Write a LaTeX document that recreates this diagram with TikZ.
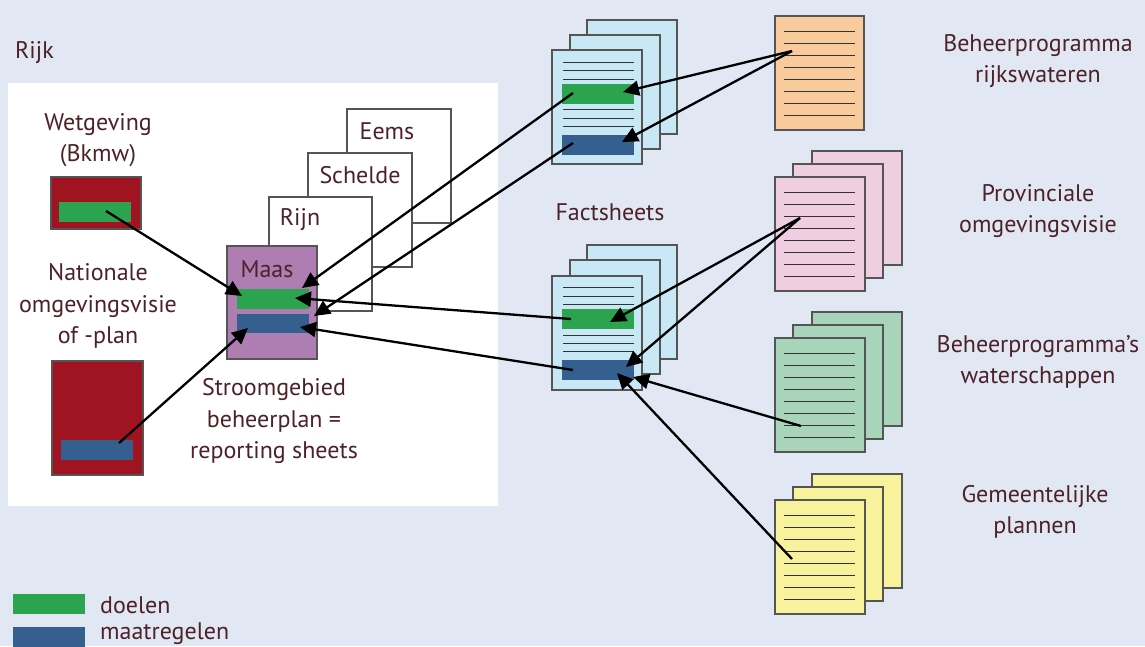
\documentclass[tikz,border=0pt]{standalone}
\usepackage{fontspec}
\setmainfont{PT Sans}
\usetikzlibrary{arrows.meta}
\definecolor{bg}{HTML}{E1E8F3}
\definecolor{txt}{HTML}{4D2128}
\definecolor{darkred}{HTML}{A01422}
\definecolor{gbar}{HTML}{2CA44F}
\definecolor{bbar}{HTML}{355F8F}
\definecolor{maas}{HTML}{AE7DB1}
\definecolor{fact}{HTML}{C8E8F6}
\definecolor{orangedoc}{HTML}{F9CB9C}
\definecolor{pinkdoc}{HTML}{F0CEE2}
\definecolor{greendoc}{HTML}{A8D5BA}
\definecolor{yellowdoc}{HTML}{F9F29C}
\definecolor{border}{HTML}{555555}
\newcommand\mystack[7]{% name, x, y, color, dx1, dy1 (back), dx2 middle
  \node[rbox={90pt}{114pt}, fill=#4, draw=border, line width=1.3pt] (#1c) at (#2+#5,#3-#6) {};
  \node[rbox={90pt}{114pt}, fill=#4, draw=border, line width=1.3pt] (#1b) at (#2+#7,#3-#6/2) {};
  \node[rbox={90pt}{114pt}, fill=#4, draw=border, line width=1.3pt] (#1) at (#2,#3) {};
}
\newcommand\mylines[2]{% x, y of front top-left : 8 text lines
  \foreach \k in {0,...,7} \draw[docline] (#1+9,#2+15+12*\k) -- (#1+80,#2+15+12*\k);
}
\begin{document}
\begin{tikzpicture}[x=1pt,y=-1pt,
  rbox/.style 2 args={minimum width=#1, minimum height=#2, anchor=north west, inner sep=0pt, outer sep=0pt},
  lbl/.style={text=txt, font=\fontsize{24}{31.5}\selectfont, align=center, inner sep=0pt},
  docline/.style={draw=black!80, line width=1pt},
  page/.style={fill=white, draw=border, line width=1.2pt},
  conn/.style={draw=black, line width=2.3pt, -{Triangle[length=16pt,width=15pt]}}]
\useasboundingbox (0,0) rectangle (1145,646);
\fill[bg] (0,0) rectangle (1145,646);

% white panel
\node[rbox={490pt}{423pt}, fill=white] (panel) at (8,83) {};
\node[lbl, anchor=west] (rijk) at (15,53) {Rijk};

% Wetgeving
\node[lbl] (wetlbl) at (98,140) {Wetgeving\\(Bkmw)};
\node[rbox={90pt}{52pt}, fill=darkred, draw=border, line width=1.2pt] (wet) at (51,177) {};
\node[rbox={72pt}{20pt}, fill=gbar] (wetg) at (59,202) {};

% Nationale
\node[lbl] (natlbl) at (98,306) {Nationale\\omgevingsvisie\\of -plan};
\node[rbox={91pt}{114pt}, fill=darkred, draw=border, line width=1.2pt] (nat) at (52,361) {};
\node[rbox={72pt}{20pt}, fill=bbar] (natb) at (61,440) {};

% river basin sheets
\node[rbox={104pt}{114pt}, page] (eems) at (347,109) {};
\node[lbl] (eemslbl) at (387,131) {Eems};
\node[rbox={104pt}{114pt}, page] (schelde) at (308,153) {};
\node[lbl] (scheldelbl) at (360,175) {Schelde};
\node[rbox={103pt}{114pt}, page] (rijn) at (269,197) {};
\node[lbl] (rijnlbl) at (300,220) {Rijn};
\node[rbox={90pt}{113pt}, fill=maas, draw=border, line width=1.2pt] (maas) at (227,246) {};
\node[lbl] (maaslbl) at (267,269) {Maas};
\node[rbox={72pt}{20pt}, fill=gbar] (maasg) at (237,289) {};
\node[rbox={72pt}{19pt}, fill=bbar] (maasb) at (237,314) {};
\node[lbl] (sglbl) at (274,421) {Stroomgebied\\beheerplan =\\reporting sheets};

% factsheets top
\node[rbox={90pt}{114pt}, fill=fact, draw=border, line width=1.2pt] (ftc) at (587,20) {};
\node[rbox={90pt}{114pt}, fill=fact, draw=border, line width=1.2pt] (ftb) at (570,35) {};
\node[rbox={90pt}{114pt}, fill=fact, draw=border, line width=1.2pt] (ft) at (552,50) {};
\foreach \yy in {62,70,79,109,118,126} \draw[docline] (563,\yy) -- (634,\yy);
\node[rbox={72pt}{20pt}, fill=gbar] (ftg) at (562,84) {};
\node[rbox={72pt}{20pt}, fill=bbar] (ftbl) at (562,135) {};

\node[lbl] (factlbl) at (610,212) {Factsheets};

% factsheets bottom
\node[rbox={90pt}{114pt}, fill=fact, draw=border, line width=1.2pt] (fbc) at (587,245) {};
\node[rbox={90pt}{114pt}, fill=fact, draw=border, line width=1.2pt] (fbb) at (570,260) {};
\node[rbox={90pt}{114pt}, fill=fact, draw=border, line width=1.2pt] (fb) at (552,276) {};
\foreach \yy in {287,296,304,335,343,351} \draw[docline] (563,\yy) -- (634,\yy);
\node[rbox={72pt}{20pt}, fill=gbar] (fbg) at (562,309) {};
\node[rbox={72pt}{20pt}, fill=bbar] (fbbl) at (562,360) {};

% right documents
\node[rbox={89pt}{114pt}, fill=orangedoc, draw=border, line width=1.3pt] (orange) at (775,16) {};
\mylines{775}{16}
\node[lbl] (rwlbl) at (1038,61) {Beheerprogramma\\rijkswateren};

\mystack{pink}{775}{177}{pinkdoc}{37}{26}{18}
\mylines{775}{177}
\node[lbl] (provlbl) at (1038,211) {Provinciale\\omgevingsvisie};

\mystack{green}{775}{338}{greendoc}{37}{26}{18}
\mylines{775}{338}
\node[lbl] (wslbl) at (1038,362) {Beheerprogramma’s\\waterschappen};

\mystack{yellow}{775}{500}{yellowdoc}{37}{26}{18}
\mylines{775}{500}
\node[lbl] (gemlbl) at (1035,512) {Gemeentelijke\\plannen};

% legend
\node[rbox={72pt}{20pt}, fill=gbar] (leggreen) at (13,594) {};
\node[lbl, anchor=west] (legd) at (100,605) {doelen};
\node[rbox={72pt}{24pt}, fill=bbar] (legblue) at (13,627) {};
\node[lbl, anchor=west] (legm) at (100,634) {maatregelen};

% arrow endpoints
\coordinate (wgs) at (106,211);  \coordinate (mgl) at (242,296);
\coordinate (nbs) at (119,443);  \coordinate (mbl) at (248,328);
\coordinate (ftgs) at (573,93);  \coordinate (mgr1) at (302,288);
\coordinate (ftbs) at (573,143); \coordinate (mbr1) at (314,316);
\coordinate (fbgs) at (571,319); \coordinate (mgr2) at (295,298);
\coordinate (fbbs) at (573,370); \coordinate (mbr2) at (300,327);
\coordinate (ors) at (792,51);   \coordinate (ftge) at (623,92); \coordinate (ftbe) at (622,142);
\coordinate (pks) at (800,218);  \coordinate (fbge) at (610,322); \coordinate (fbbe1) at (626,367);
\coordinate (grs) at (801,426);  \coordinate (fbbe2) at (633,377);
\coordinate (yes) at (792,559);  \coordinate (fbbe3) at (617,373);

\draw[conn] (wgs) -- (mgl);
\draw[conn] (nbs) -- (mbl);
\draw[conn] (ftgs) -- (mgr1);
\draw[conn] (ftbs) -- (mbr1);
\draw[conn] (fbgs) -- (mgr2);
\draw[conn] (fbbs) -- (mbr2);
\draw[conn] (ors) -- (ftge);
\draw[conn] (ors) -- (ftbe);
\draw[conn] (pks) -- (fbge);
\draw[conn] (pks) -- (fbbe1);
\draw[conn] (grs) -- (fbbe2);
\draw[conn] (yes) -- (fbbe3);
\end{tikzpicture}
\end{document}
